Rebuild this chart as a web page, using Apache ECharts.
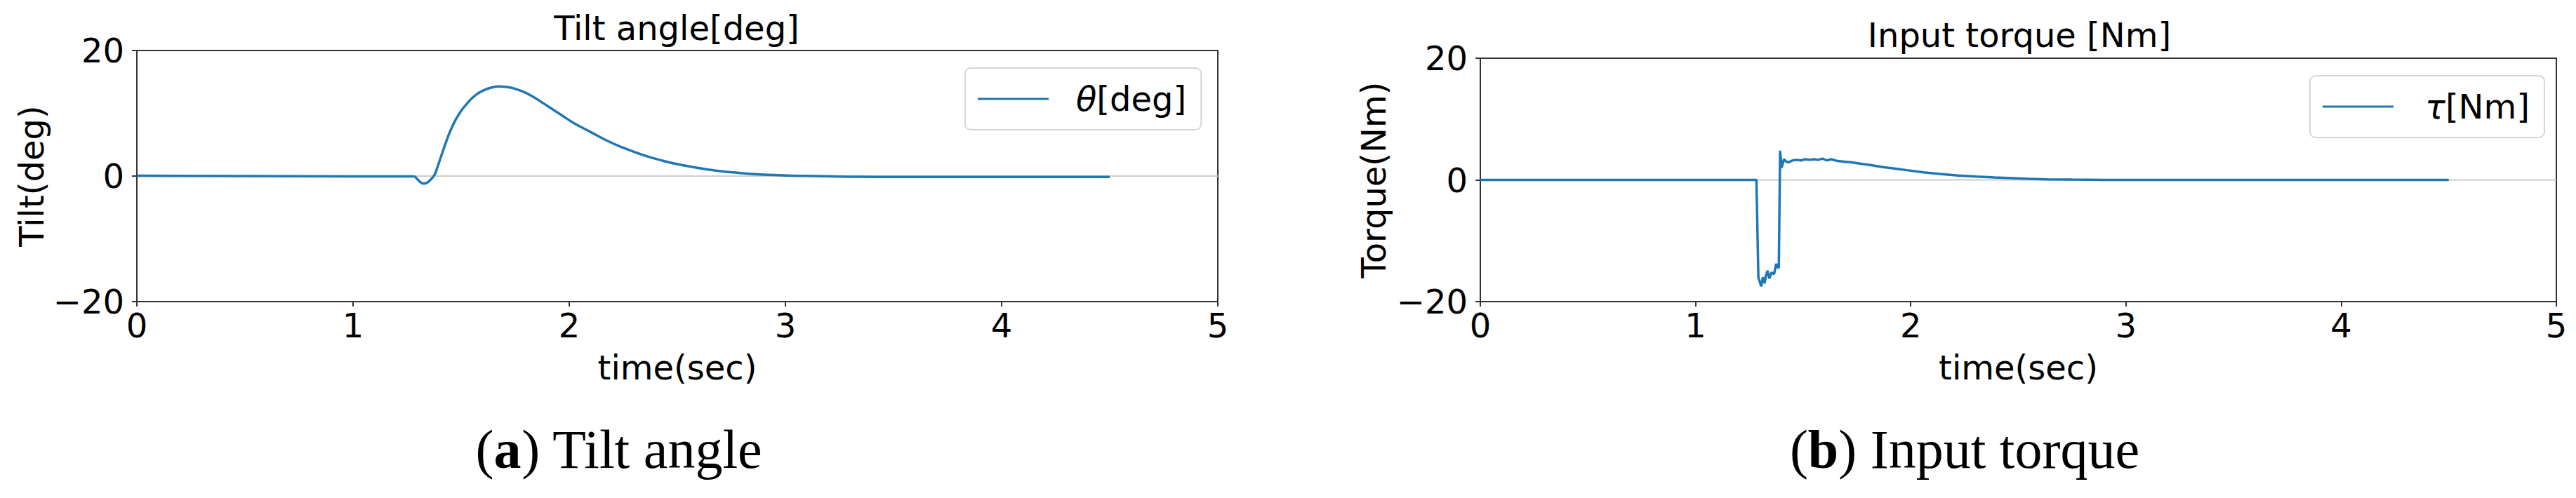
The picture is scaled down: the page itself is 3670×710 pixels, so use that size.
<!DOCTYPE html>
<html>
<head>
<meta charset="utf-8">
<script src="https://cdn.jsdelivr.net/npm/echarts@6/dist/echarts.min.js"></script>
<style>
  html, body { margin: 0; padding: 0; background: #fff; }
  #main { width: 3670px; height: 710px; }
</style>
</head>
<body>
<div id="main"></div>
<script>
// tilt angle
const thetaTime = [0, 0.5, 1.0, 1.28, 1.30, 1.315, 1.327, 1.34, 1.355, 1.377, 1.39, 1.407, 1.43, 1.45, 1.475, 1.50, 1.526, 1.55, 1.575, 1.60, 1.64, 1.674, 1.71, 1.75, 1.79, 1.824, 1.86, 1.9, 1.96, 2.023, 2.1, 2.171, 2.25, 2.333, 2.42, 2.52, 2.65, 2.768, 2.9, 3.09, 3.3, 3.5, 4.0, 4.5]
const thetaDeg = [0.05, 0, -0.05, -0.05, -0.6, -1.05, -1.2, -1.1, -0.7, 0.2, 1.4, 3.1, 5.4, 7.2, 9.0, 10.4, 11.5, 12.4, 13.1, 13.6, 14.1, 14.27, 14.2, 13.9, 13.4, 12.8, 12.05, 11.15, 9.8, 8.4, 7.0, 5.7, 4.5, 3.45, 2.55, 1.75, 1.0, 0.55, 0.22, 0.02, -0.1, -0.15, -0.15, -0.15]

// input torque
const torqueTime = [0, 1.0, 1.283, 1.292, 1.305, 1.313, 1.321, 1.328, 1.335, 1.343, 1.354, 1.365, 1.375, 1.382, 1.387, 1.393, 1.400, 1.411, 1.422, 1.433, 1.45, 1.47, 1.49, 1.51, 1.53, 1.55, 1.57, 1.59, 1.61, 1.63, 1.66, 1.69, 1.72, 1.764, 1.8, 1.872, 1.93, 1.982, 2.06, 2.145, 2.22, 2.308, 2.39, 2.471, 2.55, 2.634, 2.75, 2.9, 3.2, 3.6, 4.0, 4.5]
const torqueNm = [0, 0, 0, -16.0, -17.5, -16.0, -17.0, -15.6, -14.9, -16.2, -15.2, -15.5, -13.8, -14.4, -14.4, 4.8, 2.0, 3.4, 3.0, 2.9, 3.2, 3.3, 3.2, 3.4, 3.3, 3.4, 3.3, 3.5, 3.2, 3.4, 3.1, 3.0, 2.9, 2.67, 2.5, 2.1, 1.85, 1.6, 1.25, 0.94, 0.72, 0.55, 0.4, 0.29, 0.18, 0.1, 0.05, 0, 0, 0, 0, 0]

const xTicks = { min: 0, max: 5, interval: 1 }
const yTicks = { min: -20, max: 20, interval: 20 }

const titles = ['Tilt angle[deg]', 'Input torque [Nm]']
const yNames = ['Tilt(deg)', 'Torque(Nm)']
const seriesNames = ['theta', 'tau']

function zip (xs, ys) {
  return xs.map((x, i) => [x, ys[i]])
}

const font = 'DejaVu Sans'
const spine = '#333333'
const blue = '#1f77b4'

function xAxis (gridIndex) {
  return {
    type: 'value',
    gridIndex: gridIndex,
    min: xTicks.min,
    max: xTicks.max,
    interval: xTicks.interval,
    name: 'time(sec)',
    nameLocation: 'middle',
    nameGap: 70,
    nameTextStyle: { fontFamily: font, fontSize: 48, color: '#000' },
    axisLine: { show: false, onZero: false },
    axisTick: { show: true, length: 7, lineStyle: { color: spine, width: 2 } },
    axisLabel: { fontFamily: font, fontSize: 48, color: '#000', margin: 10 },
    splitLine: { show: false }
  }
}

function yAxis (gridIndex, name, gap) {
  return {
    type: 'value',
    gridIndex: gridIndex,
    min: yTicks.min,
    max: yTicks.max,
    interval: yTicks.interval,
    name: name,
    nameLocation: 'middle',
    nameGap: gap,
    nameRotate: 90,
    nameTextStyle: { fontFamily: font, fontSize: 48, color: '#000' },
    axisLine: { show: false, onZero: false },
    axisTick: { show: true, length: 7, lineStyle: { color: spine, width: 2 } },
    axisLabel: {
      fontFamily: font, fontSize: 48, color: '#000', margin: 18,
      formatter: v => String(v).replace('-', '\u2212')
    },
    splitLine: { show: false }
  }
}

function legend (left, top, name, label, gap) {
  return {
    data: [{ name: name, icon: 'rect' }],
    left: left,
    top: top,
    orient: 'vertical',
    itemWidth: 101,
    itemHeight: 3,
    padding: [20, 21, 20, 18],
    backgroundColor: '#fff',
    borderColor: '#d6d6d6',
    borderWidth: 2,
    borderRadius: 8,
    formatter: () => label,
    textStyle: {
      fontFamily: font, fontSize: 48, color: '#000',
      padding: [0, 0, 0, gap],
      rich: { i: { fontFamily: font, fontSize: 48, fontStyle: 'italic', color: '#000' } }
    }
  }
}

function zeroLine (idx) {
  return {
    type: 'line',
    xAxisIndex: idx,
    yAxisIndex: idx,
    data: [[xTicks.min, 0], [xTicks.max, 0]],
    symbol: 'none',
    silent: true,
    lineStyle: { color: '#cccccc', width: 2 },
    z: 1
  }
}

function mainLine (idx, name, data, smooth) {
  return {
    type: 'line',
    name: name,
    xAxisIndex: idx,
    yAxisIndex: idx,
    data: data,
    symbol: 'none',
    smooth: smooth,
    animation: false,
    lineStyle: { color: blue, width: 3.5 },
    itemStyle: { color: blue },
    z: 3
  }
}

const chart = echarts.init(document.getElementById('main'), null, { renderer: 'svg' })
chart.setOption({
  animation: false,
  backgroundColor: '#fff',
  grid: [
    { left: 195, top: 72, width: 1540, height: 358, show: true, borderColor: spine, borderWidth: 2 },
    { left: 2109, top: 83, width: 1533, height: 347, show: true, borderColor: spine, borderWidth: 2 }
  ],
  xAxis: [xAxis(0), xAxis(1)],
  yAxis: [yAxis(0, yNames[0], 126), yAxis(1, yNames[1], 128)],
  legend: [
    legend(1375, 97, seriesNames[0], '{i|\u03b8}[deg]', 34),
    legend(3291, 108, seriesNames[1], '{i|\u03c4}[Nm]', 40)
  ],
  graphic: [
    { type: 'text', x: 964, y: 40, style: { text: titles[0], font: '48px "DejaVu Sans"', fill: '#000', align: 'center', verticalAlign: 'middle' } },
    { type: 'text', x: 2877, y: 50, style: { text: titles[1], font: '48px "DejaVu Sans"', fill: '#000', align: 'center', verticalAlign: 'middle' } },
    {
      type: 'text', x: 882, y: 640,
      style: {
        text: '({b|a}) Tilt angle', fill: '#000', align: 'center', verticalAlign: 'middle',
        font: '78px "Liberation Serif"',
        rich: { b: { fontFamily: 'Liberation Serif', fontSize: 78, fontWeight: 'bold', fill: '#000' } }
      }
    },
    {
      type: 'text', x: 2799, y: 640,
      style: {
        text: '({b|b}) Input torque', fill: '#000', align: 'center', verticalAlign: 'middle',
        font: '78px "Liberation Serif"',
        rich: { b: { fontFamily: 'Liberation Serif', fontSize: 78, fontWeight: 'bold', fill: '#000' } }
      }
    }
  ],
  series: [
    zeroLine(0),
    mainLine(0, seriesNames[0], zip(thetaTime, thetaDeg), 0.5),
    zeroLine(1),
    mainLine(1, seriesNames[1], zip(torqueTime, torqueNm), false)
  ]
})
</script>
</body>
</html>
